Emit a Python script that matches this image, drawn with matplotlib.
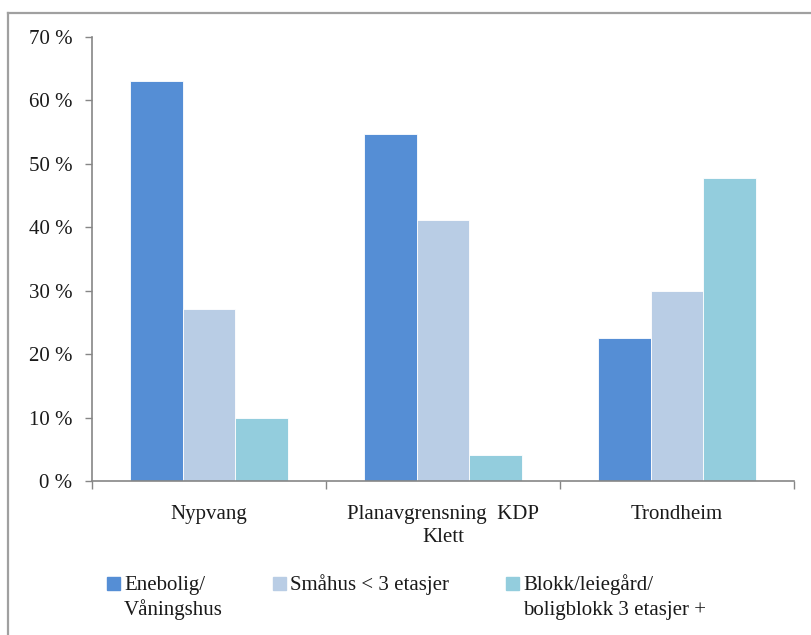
import matplotlib
matplotlib.use("Agg")
import matplotlib.pyplot as plt
from matplotlib.lines import Line2D
from matplotlib.patches import Rectangle
import numpy as np

categories = ["Nypvang", "Planavgrensning  KDP\nKlett", "Trondheim"]
series_labels = ["Enebolig/\nVåningshus", "Småhus < 3 etasjer", "Blokk/leiegård/\nboligblokk 3 etasjer +"]
enebolig = [63.0, 54.7, 22.6]
smahus = [27.1, 41.1, 30.0]
blokk = [9.9, 4.1, 47.8]
yticks = [0, 10, 20, 30, 40, 50, 60, 70]
colors = ["#558ED5", "#B9CDE5", "#93CDDD"]

plt.rcParams['font.family'] = ['Liberation Serif', 'DejaVu Serif']

W, H = 812, 635
FS = 15
fig = plt.figure(figsize=(W / 100, H / 100), dpi=100)
ax = fig.add_axes([92 / W, 1 - 481 / H, (794 - 92) / W, (481 - 37) / H])

x = np.arange(len(categories))
bw = 0.225
for i, vals in enumerate([enebolig, smahus, blokk]):
    ax.bar(x + (i - 1) * bw, vals, width=bw, color=colors[i], edgecolor="white", linewidth=0.6)

ax.set_xlim(-0.5, len(categories) - 0.5)
ax.set_ylim(0, 70)
ax.set_yticks(yticks)
ax.set_yticklabels([f"{v} %" for v in yticks], fontsize=FS, color="#1a1a1a")
ax.set_xticks(x)
ax.set_xticklabels(categories, fontsize=FS, color="#1a1a1a", linespacing=1.3)
ax.tick_params(axis="x", length=0, pad=17)
ax.tick_params(axis="y", length=5, width=1, color="#868686", pad=9)
# category boundary ticks on x axis
ax.set_xticks(np.arange(-0.5, len(categories), 1.0), minor=True)
ax.tick_params(axis="x", which="minor", length=6, width=1, color="#868686")
for s in ["top", "right"]:
    ax.spines[s].set_visible(False)
for s in ["left", "bottom"]:
    ax.spines[s].set_color("#868686")
    ax.spines[s].set_linewidth(1.2)

# outer chart border (top and left edges visible)
fig.add_artist(Line2D([8 / W, 1.0], [1 - 13 / H, 1 - 13 / H], color="#A0A0A0", lw=1.6, transform=fig.transFigure))
fig.add_artist(Line2D([8 / W, 8 / W], [1 - 13 / H, 0.0], color="#A0A0A0", lw=1.6, transform=fig.transFigure))

# legend
leg_x = [107, 273, 506]
for i, lab in enumerate(series_labels):
    fig.add_artist(Rectangle((leg_x[i] / W, 1 - 590 / H), 13 / W, 13 / H, color=colors[i], transform=fig.transFigure))
    first, *rest = lab.split("\n")
    fig.text((leg_x[i] + 17) / W, 1 - 590 / H, first, fontsize=FS, color="#1a1a1a", va="baseline", ha="left")
    for j, line in enumerate(rest, start=1):
        fig.text((leg_x[i] + 17) / W, 1 - (590 + 25 * j) / H, line, fontsize=FS, color="#1a1a1a", va="baseline", ha="left")

fig.savefig("out.png", dpi=100)
